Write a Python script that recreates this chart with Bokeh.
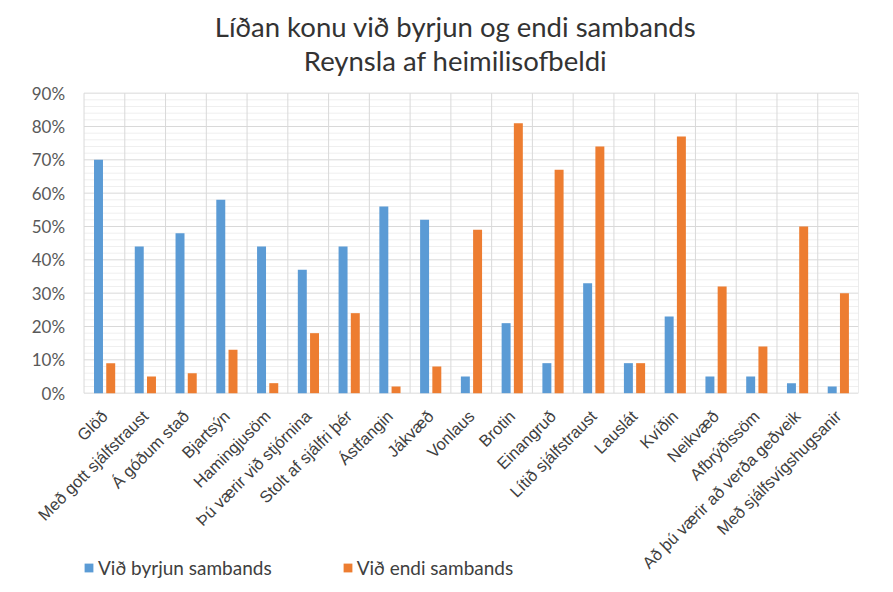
import math
from bokeh.plotting import figure
from bokeh.layouts import column
from bokeh.models import (ColumnDataSource, FactorRange, Range1d, Legend, LegendItem, Label)
from bokeh.core.properties import value
from bokeh.transform import dodge
from bokeh.embed import file_html
from bokeh.resources import INLINE

categories = ["Glöð", "Með gott sjálfstraust", "Á góðum stað", "Bjartsýn", "Hamingjusöm",
              "Þú værir við stjórnina", "Stolt af sjálfri þér", "Ástfangin", "Jákvæð",
              "Vonlaus", "Brotin", "Einangruð", "Lítið sjálfstraust", "Lauslát", "Kvíðin",
              "Neikvæð", "Afbrýðissöm", "Að þú værir að verða geðveik", "Með sjálfsvígshugsanir"]
byrjun = [70, 44, 48, 58, 44, 37, 44, 56, 52, 5, 21, 9, 33, 9, 23, 5, 5, 3, 2]
endi = [9, 5, 6, 13, 3, 18, 24, 2, 8, 49, 81, 67, 74, 9, 77, 32, 14, 50, 30]
series_names = ["Við byrjun sambands", "Við endi sambands"]
title_lines = ["Líðan konu við byrjun og endi sambands", "Reynsla af heimilisofbeldi"]
y_ticks = [0, 10, 20, 30, 40, 50, 60, 70, 80, 90]
y_minor = [v for v in range(0, 91, 2) if v % 10]

BLUE = "#5B9BD5"
ORANGE = "#ED7D31"
GRID = "#d9d9d9"
W = 877
Y_MAX = 93.5         # small headroom so the top % label is not cut
Y_MIN = -58          # empty band below the bars holds the axis labels and the legend
pads = [" ", "  "]   # blank slots left of the bars: room for the % labels
n_pad = len(pads)

# ---- title strip ----
pt = figure(width=W, height=80, x_range=Range1d(0, W), y_range=Range1d(0, 80),
            x_axis_type=None, y_axis_type=None, output_backend="svg", toolbar_location=None,
            min_border=0)
pt.outline_line_color = None
pt.grid.visible = False
for i, t in enumerate(title_lines):
    pt.add_layout(Label(x=453, y=54 - 34 * i, x_units="screen", y_units="screen", text=t,
                        text_align="center", text_baseline="middle", text_font="Lato",
                        text_font_size="27.5px", text_color="#333333"))

# ---- main chart ----
src = ColumnDataSource(dict(cat=categories, a=byrjun, b=endi))

p = figure(frame_width=856, frame_height=round((Y_MAX - Y_MIN) * 300 / 90),
           x_range=FactorRange(*(pads + categories)), y_range=Range1d(Y_MIN, Y_MAX),
           y_axis_type=None, output_backend="svg", toolbar_location=None,
           min_border_left=2, min_border_right=18, min_border_top=1, min_border_bottom=0)
p.outline_line_color = None
p.background_fill_color = "white"
p.grid.visible = False

x_left, x_right = n_pad, n_pad + len(categories)

# horizontal grid (minor then major), spanning the bar area only
p.segment(x0=[x_left] * len(y_minor), y0=y_minor, x1=[x_right] * len(y_minor), y1=y_minor,
          line_color="#efefef", line_width=1)
p.segment(x0=[x_left] * len(y_ticks), y0=y_ticks, x1=[x_right] * len(y_ticks), y1=y_ticks,
          line_color=GRID, line_width=1)
# vertical separators between categories
bounds = list(range(x_left, x_right + 1))
p.segment(x0=bounds, y0=[y_ticks[0]] * len(bounds), x1=bounds, y1=[y_ticks[-1]] * len(bounds),
          line_color=GRID, line_width=1)

r1 = p.vbar(x=dodge("cat", -0.145, range=p.x_range), top="a", width=0.22, source=src,
            fill_color=BLUE, line_color=None)
r2 = p.vbar(x=dodge("cat", 0.155, range=p.x_range), top="b", width=0.22, source=src,
            fill_color=ORANGE, line_color=None)

# y tick labels
p.text(x=[x_left] * len(y_ticks), y=y_ticks, text=[f"{t}%" for t in y_ticks],
       x_offset=-19, text_align="right", text_baseline="middle",
       text_font=value("Lato"), text_font_size="17px", text_color="#595959")

# x axis, pinned to the 0% line
p.xaxis.fixed_location = 0
p.xaxis.major_label_overrides = {s: "" for s in pads}
p.xaxis.axis_line_color = None
p.xaxis.major_tick_line_color = None
p.xaxis.minor_tick_line_color = None
p.xaxis.major_tick_out = 0
p.xaxis.major_label_orientation = math.pi / 4
p.xaxis.major_label_text_font = "Liberation Sans"
p.xaxis.major_label_text_font_size = "16.5px"
p.xaxis.major_label_text_color = "#404040"
p.xaxis.major_label_standoff = 20

legend = Legend(items=[LegendItem(label=series_names[0], renderers=[r1]),
                       LegendItem(label=series_names[1], renderers=[r2])],
                orientation="horizontal", location=(81, 7), spacing=70,
                padding=0, margin=0, border_line_color=None, background_fill_alpha=0,
                glyph_width=11, glyph_height=11, label_standoff=4, label_height=20,
                label_text_font="Lato", label_text_font_size="19px",
                label_text_color="#404040")
p.add_layout(legend, "center")

layout = column(pt, p, spacing=0)
open("out.html", "w").write(file_html(layout, INLINE))
